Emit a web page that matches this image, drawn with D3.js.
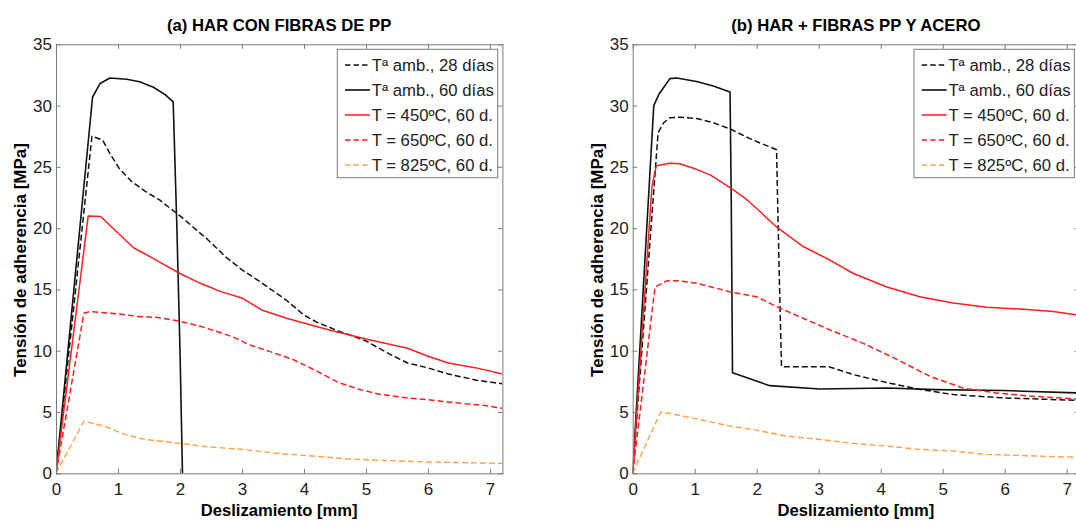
<!DOCTYPE html>
<html>
<head>
<meta charset="utf-8">
<script src="https://cdn.jsdelivr.net/npm/d3@7"></script>
<style>
  html, body { margin: 0; padding: 0; background: #fff; overflow: hidden; }
  svg { display: block; font-family: "Liberation Sans", Arial, Helvetica, sans-serif; }
</style>
</head>
<body>
<svg id="chart" width="1076" height="521"></svg>
<script>
// Bond stress – slip curves, slip in mm, stress in MPa
const panelTitles = ["(a) HAR CON FIBRAS DE PP", "(b) HAR + FIBRAS PP Y ACERO"];
const seriesNames = ["Tª amb., 28 días", "Tª amb., 60 días", "T = 450ºC, 60 d.", "T = 650ºC, 60 d.", "T = 825ºC, 60 d."];
const xTicks = [0, 1, 2, 3, 4, 5, 6, 7];
const yTicks = [0, 5, 10, 15, 20, 25, 30, 35];
const xLabel = "Deslizamiento [mm]";
const yLabel = "Tensión de adherencia [MPa]";

// (a) HAR con fibras de PP
const a_amb28 = [[0,0],[0.58,27.5],[0.75,27.2],[0.88,26.0],[1.03,24.8],[1.22,23.8],[1.44,23.0],[1.67,22.3],[2.0,21.0],[2.44,19.1],[2.75,17.6],[3.0,16.6],[3.33,15.5],[3.72,14.1],[4.0,12.9],[4.22,12.3],[4.56,11.6],[5.0,10.8],[5.39,9.7],[5.67,9.0],[6.0,8.6],[6.33,8.1],[6.78,7.6],[7.2,7.3]];
const a_amb60 = [[0,0],[0.59,30.7],[0.71,31.8],[0.87,32.25],[1.14,32.15],[1.35,31.95],[1.57,31.5],[1.76,30.9],[1.89,30.3],[1.95,20.0],[2.0,10.0],[2.04,0]];
const a_t450 = [[0,0],[0.52,21.0],[0.72,20.95],[1.0,19.6],[1.25,18.4],[1.58,17.5],[2.0,16.3],[2.33,15.5],[2.67,14.8],[3.0,14.3],[3.33,13.3],[3.72,12.65],[4.11,12.1],[4.44,11.65],[5.0,10.95],[5.67,10.2],[6.0,9.55],[6.33,9.0],[6.78,8.6],[7.2,8.1]];
const a_t650 = [[0,0],[0.45,13.05],[0.55,13.2],[1.0,13.0],[1.33,12.8],[1.67,12.7],[2.0,12.4],[2.33,12.0],[2.67,11.45],[2.89,11.05],[3.11,10.5],[3.44,9.95],[3.83,9.27],[4.22,8.3],[4.56,7.4],[4.89,6.85],[5.22,6.45],[5.67,6.15],[6.0,6.0],[6.44,5.75],[6.89,5.55],[7.2,5.3]];
const a_t825 = [[0,0],[0.45,4.25],[0.78,3.85],[1.11,3.17],[1.44,2.76],[2.0,2.44],[2.44,2.17],[3.0,1.95],[3.56,1.63],[4.0,1.46],[4.67,1.19],[5.22,1.06],[6.0,0.92],[7.2,0.81]];

// (b) HAR + fibras PP y acero
const b_amb28 = [[0,0],[0.41,27.8],[0.5,28.6],[0.6,29.0],[0.76,29.05],[1.03,28.95],[1.3,28.6],[1.57,28.1],[1.89,27.3],[2.32,26.4],[2.36,17.0],[2.40,8.7],[2.65,8.7],[3.16,8.7],[3.56,8.05],[4.1,7.4],[4.63,6.85],[5.17,6.42],[5.98,6.15],[7.2,5.95]];
const b_amb60 = [[0,0],[0.34,30.0],[0.42,30.9],[0.6,32.2],[0.71,32.25],[1.03,31.97],[1.3,31.6],[1.57,31.1],[1.59,22.0],[1.61,8.2],[2.21,7.15],[3.02,6.88],[4.1,6.96],[4.9,6.83],[5.98,6.75],[7.2,6.55]];
const b_t450 = [[0,0],[0.31,23.4],[0.38,25.1],[0.6,25.3],[0.76,25.25],[1.03,24.8],[1.25,24.35],[1.6,23.2],[1.8,22.5],[2.0,21.6],[2.32,20.1],[2.75,18.5],[3.18,17.4],[3.56,16.3],[4.1,15.2],[4.63,14.4],[5.17,13.9],[5.71,13.55],[6.25,13.4],[6.78,13.2],[7.2,12.9]];
const b_t650 = [[0,0],[0.36,15.2],[0.55,15.7],[0.76,15.7],[1.03,15.5],[1.35,15.1],[1.57,14.8],[2.0,14.4],[2.32,13.6],[2.75,12.65],[3.18,11.7],[3.72,10.6],[4.26,9.3],[4.8,7.9],[5.33,6.95],[5.87,6.55],[6.41,6.3],[7.2,6.05]];
const b_t825 = [[0,0],[0.45,5.0],[0.6,4.88],[1.03,4.44],[1.57,3.85],[2.0,3.52],[2.48,3.04],[3.02,2.76],[3.56,2.44],[4.1,2.22],[4.63,1.95],[5.17,1.82],[5.71,1.54],[6.25,1.46],[6.78,1.36],[7.2,1.32]];

const panelSeries = [
  [a_amb28, a_amb60, a_t450, a_t650, a_t825],
  [b_amb28, b_amb60, b_t450, b_t650, b_t825]
];

// Line styles for the five curves (same order as seriesNames)
const lineStyles = [
  { color: "#111", dash: "6,3", width: 1.5 },
  { color: "#111", dash: null,  width: 1.6 },
  { color: "#ff1f1f", dash: null, width: 1.5 },
  { color: "#ff1f1f", dash: "6,3", width: 1.5 },
  { color: "#ffa043", dash: "6,3", width: 1.4 }
];

const svg = d3.select("#chart");
svg.append("rect").attr("width", 1076).attr("height", 521).attr("fill", "#fff");

const axisColor = "#7a7a7a";
const textColor = "#222";
const plotTop = 44.3, plotBottom = 473.3;
const pxPerMm = 62;
const panelLefts = [56, 632.7];
const tickLen = 4.5;

panelLefts.forEach((left, p) => {
  const right = left + 7.2 * pxPerMm;
  const x = d3.scaleLinear().domain([0, 7.2]).range([left, right]);
  const y = d3.scaleLinear().domain([0, 35]).range([plotBottom, plotTop]);
  const g = svg.append("g");

  const clipId = "clip" + p;
  svg.append("defs").append("clipPath").attr("id", clipId)
    .append("rect").attr("x", left).attr("y", plotTop)
    .attr("width", right - left).attr("height", plotBottom - plotTop);

  // curves
  const line = d3.line().x(d => x(d[0])).y(d => y(d[1]));
  const curves = g.append("g").attr("clip-path", `url(#${clipId})`);
  panelSeries[p].forEach((data, i) => {
    const st = lineStyles[i];
    curves.append("path")
      .datum(data)
      .attr("d", line)
      .attr("fill", "none")
      .attr("stroke", st.color)
      .attr("stroke-width", st.width)
      .attr("stroke-linejoin", "round")
      .attr("stroke-dasharray", st.dash);
  });

  // axes box with inward ticks on every side
  const styleAxis = sel => {
    sel.select(".domain").attr("stroke", axisColor).attr("stroke-width", 1);
    sel.selectAll(".tick line").attr("stroke", axisColor).attr("stroke-width", 1);
    sel.selectAll(".tick text").attr("fill", textColor).attr("font-size", "17px");
  };
  g.append("g").attr("transform", `translate(0,${plotBottom})`)
    .call(d3.axisBottom(x).tickValues(xTicks).tickFormat(d3.format("d"))
      .tickSizeInner(-tickLen).tickSizeOuter(0).tickPadding(10))
    .call(styleAxis);
  g.append("g").attr("transform", `translate(0,${plotTop})`)
    .call(d3.axisTop(x).tickValues(xTicks).tickFormat("")
      .tickSizeInner(-tickLen).tickSizeOuter(0))
    .call(styleAxis);
  g.append("g").attr("transform", `translate(${left},0)`)
    .call(d3.axisLeft(y).tickValues(yTicks).tickFormat(d3.format("d"))
      .tickSizeInner(-tickLen).tickSizeOuter(0).tickPadding(4))
    .call(styleAxis);
  g.append("g").attr("transform", `translate(${right},0)`)
    .call(d3.axisRight(y).tickValues(yTicks).tickFormat("")
      .tickSizeInner(-tickLen).tickSizeOuter(0))
    .call(styleAxis);
  g.selectAll(".domain").attr("stroke-linecap", "square");

  // title and axis labels
  const cx = (left + right) / 2;
  g.append("text").attr("x", cx).attr("y", 30.5)
    .attr("text-anchor", "middle").attr("font-weight", "bold")
    .attr("font-size", "16.7px").attr("fill", "#000")
    .text(panelTitles[p]);
  g.append("text").attr("x", cx).attr("y", 515.5)
    .attr("text-anchor", "middle").attr("font-weight", "bold")
    .attr("font-size", "16.6px").attr("fill", "#000")
    .text(xLabel);
  g.append("text")
    .attr("transform", `translate(${left - 30},260) rotate(-90)`)
    .attr("text-anchor", "middle").attr("font-weight", "bold")
    .attr("font-size", "17px").attr("fill", "#000")
    .text(yLabel);

  // legend (upper right)
  const legW = 160.4, legH = 128.4;
  const legX = right - 165.1, legY = 49.3;
  const leg = g.append("g");
  leg.append("rect").attr("x", legX).attr("y", legY)
    .attr("width", legW).attr("height", legH)
    .attr("fill", "#fff").attr("stroke", axisColor).attr("stroke-width", 1);
  seriesNames.forEach((name, i) => {
    const st = lineStyles[i];
    const cy = legY + 15.7 + 25 * i;
    leg.append("line")
      .attr("x1", legX + 7.7).attr("x2", legX + 32.7)
      .attr("y1", cy).attr("y2", cy)
      .attr("stroke", st.color).attr("stroke-width", st.width)
      .attr("stroke-dasharray", st.dash ? "5.5,3" : null);
    leg.append("text")
      .attr("x", legX + 34.4).attr("y", cy + 6)
      .attr("font-size", "16.7px").attr("fill", textColor)
      .text(name);
  });
});
</script>
</body>
</html>
